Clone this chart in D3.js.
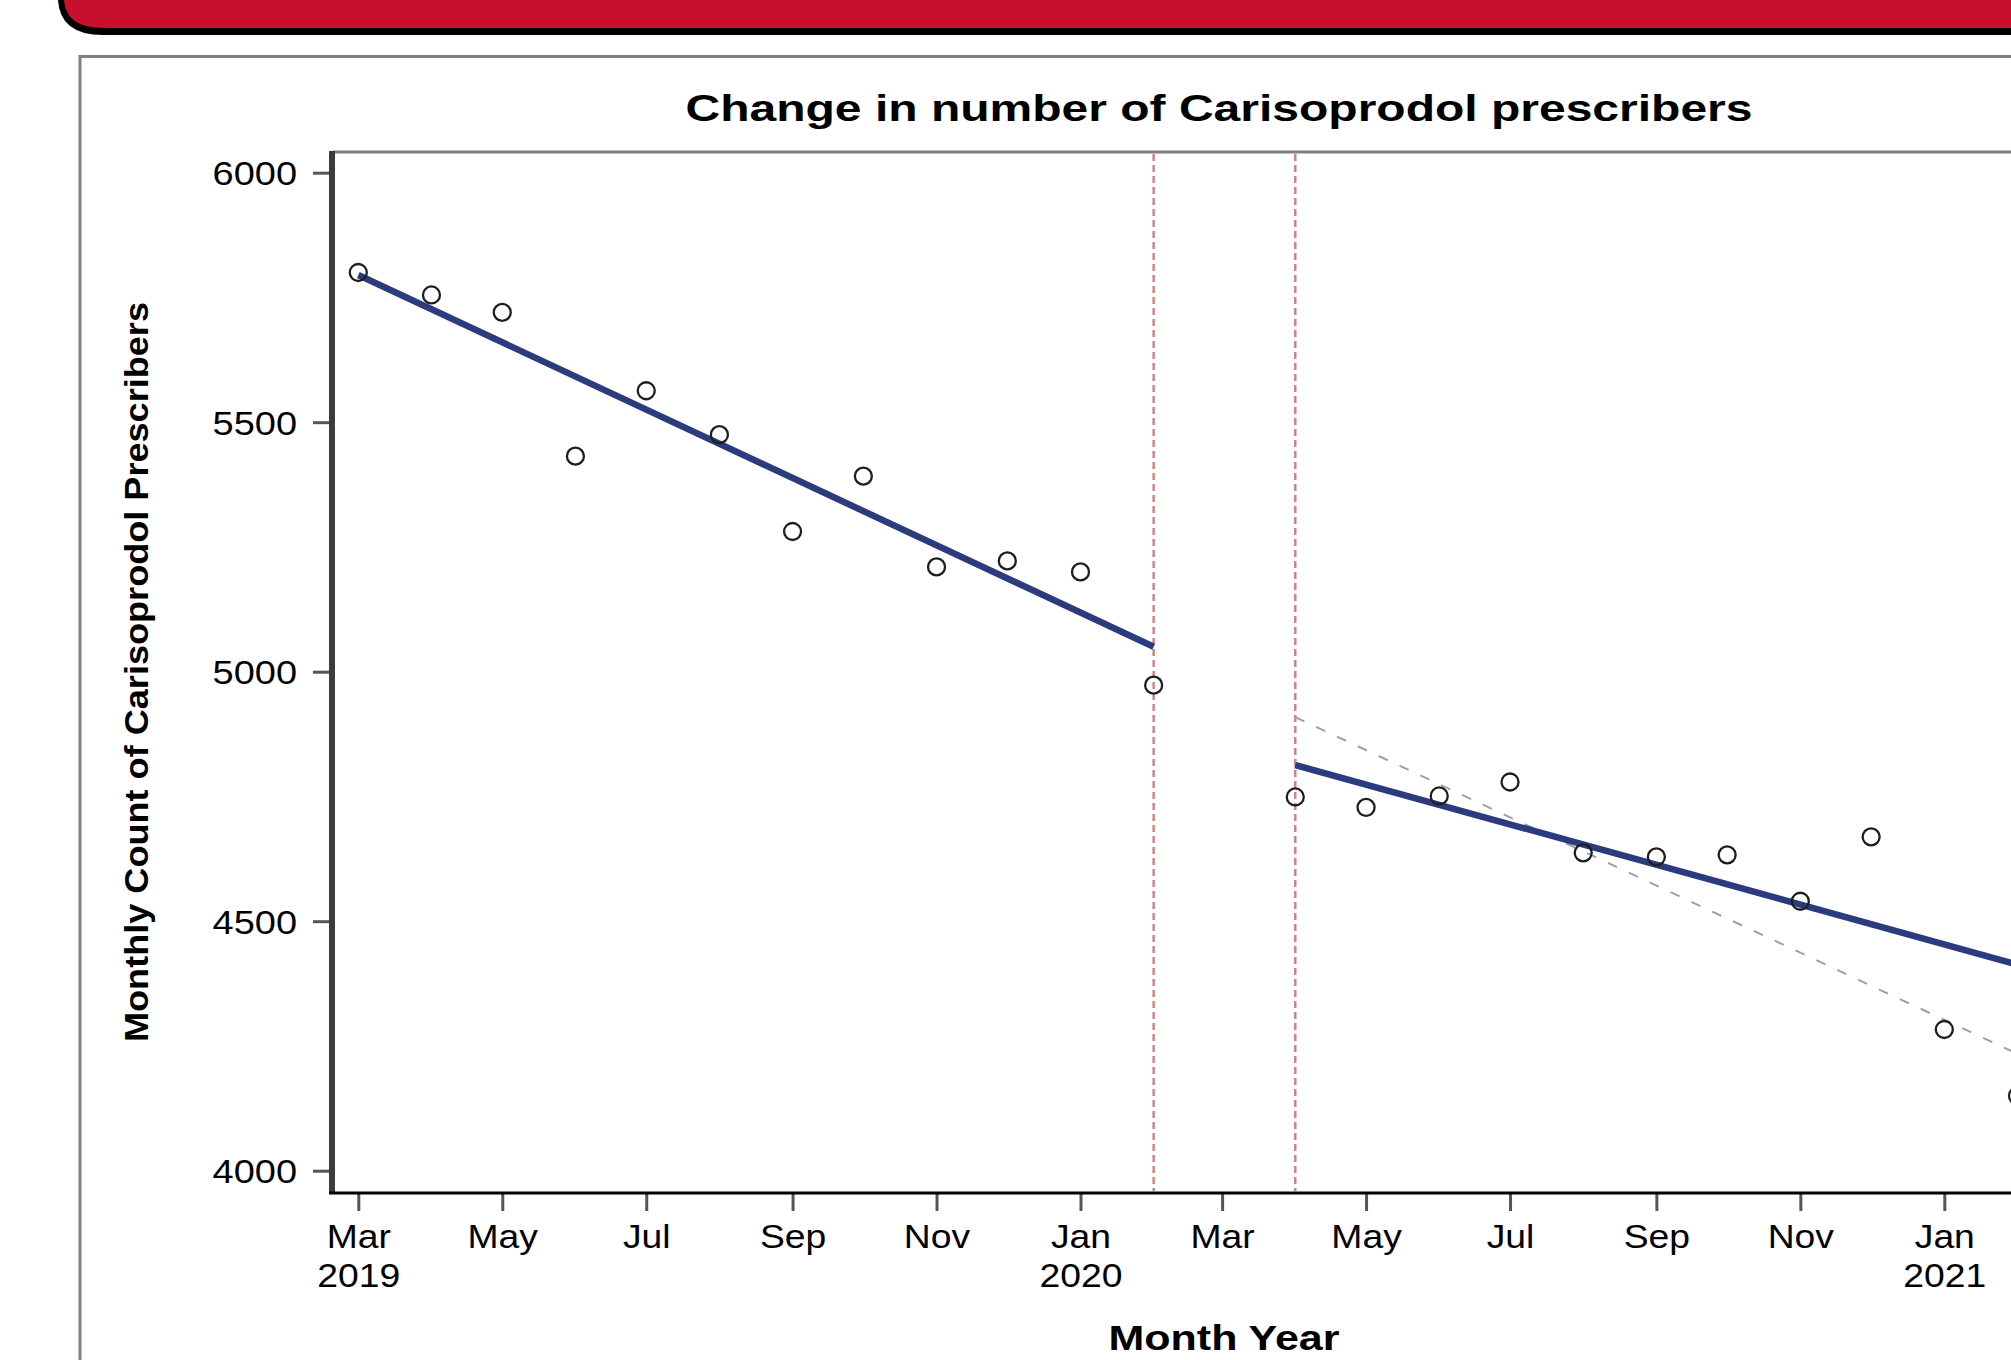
<!DOCTYPE html>
<html>
<head>
<meta charset="utf-8">
<script src="https://cdn.jsdelivr.net/npm/d3@7"></script>
<style>
  html, body { margin: 0; padding: 0; background: #ffffff; }
  svg { display: block; }
  text { font-family: "Liberation Sans", Arial, sans-serif; fill: #000; }
</style>
</head>
<body>
<svg id="chart" width="2011" height="1360"></svg>
<script>
// ---------------- DATA ----------------
const months = ["2019-03","2019-04","2019-05","2019-06","2019-07","2019-08","2019-09","2019-10","2019-11","2019-12",
                "2020-01","2020-02","2020-04","2020-05","2020-06","2020-07","2020-08","2020-09","2020-10","2020-11",
                "2020-12","2021-01","2021-02"];
const prescribers = [5800,5755,5720,5432,5563,5475,5281,5392,5210,5222,
                     5200,4973,4749,4728,4751,4779,4637,4629,4633,4540,
                     4669,4283,4150];
const preTrendMonths = ["2019-03","2020-02"];
const preTrendValues = [5795,5050];
const postTrendMonths = ["2020-04","2021-02"];
const postTrendValues = [4813,4413];
const counterfactualMonths = ["2020-04","2021-02"];
const counterfactualValues = [4909,4234];
const interruptionMonths = ["2020-02","2020-04"];
const xTickMonths = ["2019-03","2019-05","2019-07","2019-09","2019-11","2020-01","2020-03","2020-05","2020-07","2020-09","2020-11","2021-01"];
const xTickLabels = ["Mar","May","Jul","Sep","Nov","Jan","Mar","May","Jul","Sep","Nov","Jan"];
const xTickYears  = ["2019","","","","","2020","","","","","","2021"];
const yTicks = [4000,4500,5000,5500,6000];
const titleText = "Change in number of Carisoprodol prescribers";
const xTitle = "Month Year";
const yTitle = "Monthly Count of Carisoprodol Prescribers";

// ---------------- CHART ----------------
const parse = d3.timeParse("%Y-%m");
const svg = d3.select("#chart");
const W = 2011, H = 1360;

svg.append("rect").attr("width", W).attr("height", H).attr("fill", "#fff");

// banner
svg.append("path").attr("d", "M58,0 Q60,35 103,35 L2011,35 L2011,0 Z").attr("fill", "#000");
svg.append("path").attr("d", "M64,0 Q66,28 103,28 L2011,28 L2011,0 Z").attr("fill", "#c8102e");

// outer frame
svg.append("path").attr("d", "M80,1360 L80,56.5 L2011,56.5")
  .attr("fill", "none").attr("stroke", "#808080").attr("stroke-width", 3);

const plotLeft = 332, plotTop = 152, plotBottom = 1193;
const x = d3.scaleTime().domain([parse("2019-03"), parse("2021-01")]).range([358.3, 1944.3]);
const y = d3.scaleLinear().domain([4000, 6000]).range([1170.7, 172.7]);

function stretch(sel, factor) {
  sel.each(function() {
    const len = this.getComputedTextLength();
    d3.select(this).attr("textLength", len * factor).attr("lengthAdjust", "spacingAndGlyphs");
  });
}

// title
svg.append("text").attr("x", 1219).attr("y", 121).attr("text-anchor", "middle")
  .style("font-weight", "bold").style("font-size", "36px")
  .attr("textLength", 1067).attr("lengthAdjust", "spacingAndGlyphs")
  .text(titleText);

// plot top frame
svg.append("line").attr("x1", plotLeft).attr("x2", W).attr("y1", plotTop).attr("y2", plotTop)
  .attr("stroke", "#808080").attr("stroke-width", 3);

// interruption lines
svg.append("g").selectAll("line").data(interruptionMonths).join("line")
  .attr("x1", d => x(parse(d))).attr("x2", d => x(parse(d)))
  .attr("y1", plotTop + 2).attr("y2", plotBottom - 2)
  .attr("stroke", "#d08585").attr("stroke-width", 2.5).attr("stroke-dasharray", "7,4");

// y axis
const yAxis = d3.axisLeft(y).tickValues(yTicks).tickSize(16).tickSizeOuter(0).tickPadding(16).tickFormat(d3.format("d"));
const gy = svg.append("g").attr("transform", "translate(329,0)").call(yAxis);
gy.select(".domain").remove();
gy.selectAll(".tick line").attr("stroke", "#555").attr("stroke-width", 3);
gy.selectAll(".tick text").style("font-size", "33px").style("font-family", "Liberation Sans, Arial, sans-serif")
  .attr("fill", "#000").attr("dy", "0.36em");
stretch(gy.selectAll(".tick text"), 1.15);

// x axis
const xAxis = d3.axisBottom(x).tickValues(xTickMonths.map(parse)).tickSize(17).tickSizeOuter(0).tickFormat(() => "");
const gx = svg.append("g").attr("transform", `translate(0,${plotBottom + 1})`).call(xAxis);
gx.select(".domain").remove();
gx.selectAll(".tick line").attr("stroke", "#555").attr("stroke-width", 3);
gx.selectAll(".tick text").remove();
const ticks = gx.selectAll(".tick");
ticks.append("text").attr("y", 53.5).attr("text-anchor", "middle").style("font-size", "33px")
  .text((d, i) => xTickLabels[i]);
ticks.append("text").attr("y", 92.5).attr("text-anchor", "middle").style("font-size", "33px")
  .text((d, i) => xTickYears[i]);
stretch(ticks.selectAll("text"), 1.13);

// axis lines
svg.append("line").attr("x1", plotLeft).attr("x2", plotLeft).attr("y1", plotTop - 1).attr("y2", plotBottom + 1)
  .attr("stroke", "#3c3c3c").attr("stroke-width", 6);
svg.append("line").attr("x1", plotLeft - 3).attr("x2", W).attr("y1", plotBottom).attr("y2", plotBottom)
  .attr("stroke", "#000").attr("stroke-width", 3);

// axis titles
svg.append("text").attr("x", 1224).attr("y", 1350).attr("text-anchor", "middle")
  .style("font-weight", "bold").style("font-size", "35px")
  .attr("textLength", 231).attr("lengthAdjust", "spacingAndGlyphs")
  .text(xTitle);
svg.append("text").attr("transform", "translate(148,672) rotate(-90)").attr("text-anchor", "middle")
  .style("font-weight", "bold").style("font-size", "33px")
  .attr("textLength", 740).attr("lengthAdjust", "spacingAndGlyphs")
  .text(yTitle);

// lines
const line = d3.line().x(d => x(parse(d[0]))).y(d => y(d[1]));
svg.append("path").datum(counterfactualMonths.map((m, i) => [m, counterfactualValues[i]]))
  .attr("d", line).attr("fill", "none").attr("stroke", "#a0a0a0").attr("stroke-width", 2)
  .attr("stroke-dasharray", "10,13");
svg.append("path").datum(preTrendMonths.map((m, i) => [m, preTrendValues[i]]))
  .attr("d", line).attr("fill", "none").attr("stroke", "#2c3a7e").attr("stroke-width", 6.5);
svg.append("path").datum(postTrendMonths.map((m, i) => [m, postTrendValues[i]]))
  .attr("d", line).attr("fill", "none").attr("stroke", "#2c3a7e").attr("stroke-width", 6.5);

// points
svg.append("g").selectAll("circle").data(months.map((m, i) => [m, prescribers[i]])).join("circle")
  .attr("cx", d => x(parse(d[0]))).attr("cy", d => y(d[1])).attr("r", 8.5)
  .attr("fill", "none").attr("stroke", "#1e1e1e").attr("stroke-width", 2.3);
</script>
</body>
</html>
